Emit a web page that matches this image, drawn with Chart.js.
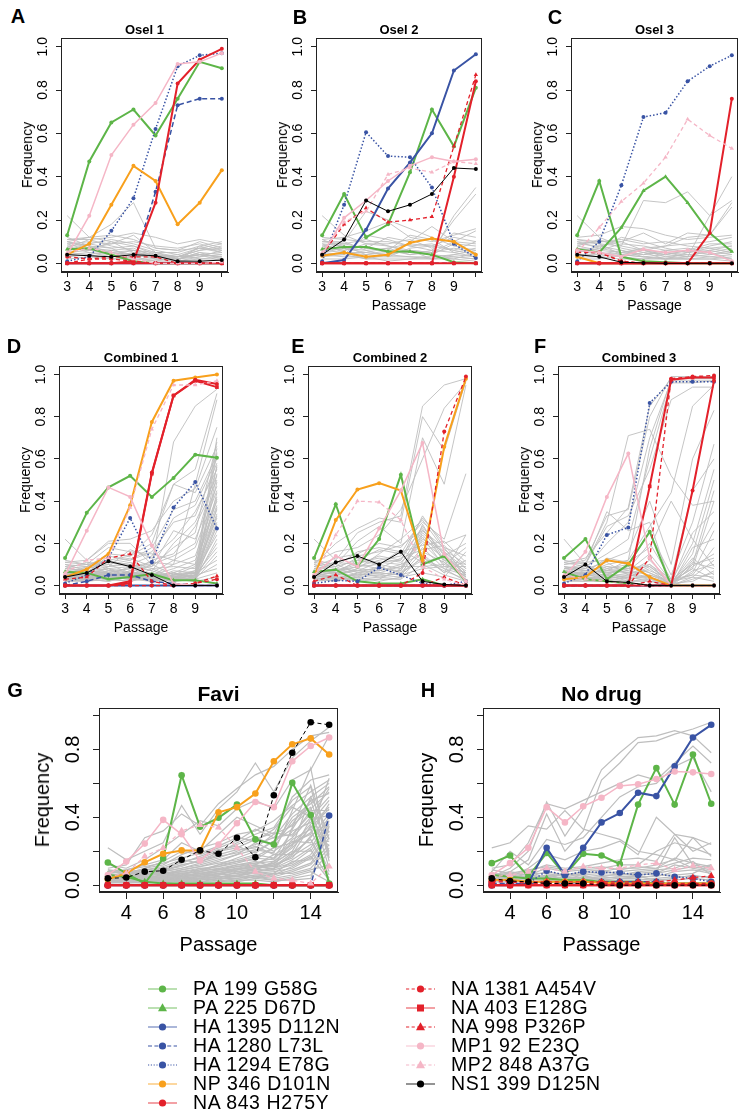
<!DOCTYPE html>
<html>
<head>
<meta charset="utf-8">
<script src="https://cdn.jsdelivr.net/npm/chart.js@4.4.1/dist/chart.umd.min.js"></script>
<style>
  body { margin: 0; background: #fff; }
  #fig { position: relative; width: 750px; height: 1119px; overflow: hidden;
         font-family: "Liberation Sans", Arial, Helvetica, sans-serif; color: #000; }
  #fig canvas { position: absolute; }
  .t { position: absolute; white-space: nowrap; line-height: 1; transform: translate(-50%, -50%); }
  .t.rot { transform: translate(-50%, -50%) rotate(-90deg); }
  .legtxt { position: absolute; white-space: nowrap; line-height: 1; font-size: 19.5px;
            letter-spacing: 0.6px; transform: translateY(-50%); }
  .legsym { position: absolute; }
</style>
</head>
<body>
<div id="fig"></div>
<script>
// passages
const passShort = [3, 4, 5, 6, 7, 8, 9, 10];
const passLong = [3, 4, 5, 6, 7, 8, 9, 10, 11, 12, 13, 14, 15];

const seriesNames = ["PA 199 G58G", "PA 225 D67D", "HA 1395 D112N", "HA 1280 L73L", "HA 1294 E78G",
  "NP 346 D101N", "NA 843 H275Y", "NA 1381 A454V", "NA 403 E128G", "NA 998 P326P",
  "MP1 92 E23Q", "MP2 848 A37G", "NS1 399 D125N"];

// one row per series, in legend order
const osel1 = [
  [0.13, 0.47, 0.65, 0.71, 0.59, 0.76, 0.93, 0.90],
  [0.065, 0.07, 0.04, 0.01, 0.0, 0.0, 0.0, 0.0],
  [0, 0, 0, 0, 0, 0, 0, 0],
  [0.0, 0.0, 0.0, 0.0, 0.33, 0.73, 0.76, 0.76],
  [0.01, 0.03, 0.15, 0.30, 0.62, 0.91, 0.96, 0.97],
  [0.04, 0.09, 0.27, 0.45, 0.38, 0.18, 0.28, 0.43],
  [0.0, 0.0, 0.0, 0.01, 0.28, 0.83, 0.94, 0.99],
  [0.03, 0.02, 0.02, 0.01, 0.0, 0.0, 0.0, 0.0],
  [0, 0, 0, 0, 0, 0, 0, 0],
  [0.0, 0.02, 0.03, 0.03, 0.03, 0.0, 0.0, 0.0],
  [0.04, 0.22, 0.50, 0.64, 0.74, 0.92, 0.93, 0.97],
  [0.05, 0.07, 0.05, 0.02, 0.0, 0.0, 0.0, 0.005],
  [0.04, 0.035, 0.03, 0.04, 0.035, 0.01, 0.01, 0.015]
];
const osel1Grey = [
  [0.22, 0.12, 0.10, 0.08, 0.05, 0.03, 0.04, 0.03],
  [0.11, 0.12, 0.18, 0.28, 0.07, 0.06, 0.07, 0.06],
  [0.11, 0.11, 0.12, 0.14, 0.12, 0.09, 0.11, 0.09],
  [0.10, 0.12, 0.13, 0.11, 0.07, 0.06, 0.10, 0.07],
  [0.09, 0.10, 0.09, 0.13, 0.05, 0.05, 0.08, 0.10],
  [0.08, 0.09, 0.11, 0.09, 0.06, 0.04, 0.07, 0.05],
  [0.10, 0.08, 0.07, 0.08, 0.04, 0.03, 0.06, 0.08],
  [0.07, 0.11, 0.08, 0.06, 0.05, 0.02, 0.05, 0.04],
  [0.06, 0.07, 0.06, 0.07, 0.03, 0.03, 0.06, 0.07],
  [0.05, 0.06, 0.10, 0.05, 0.04, 0.02, 0.04, 0.03],
  [0.12, 0.08, 0.05, 0.04, 0.03, 0.02, 0.03, 0.06],
  [0.04, 0.05, 0.04, 0.06, 0.02, 0.02, 0.05, 0.02],
  [0.09, 0.06, 0.05, 0.03, 0.04, 0.01, 0.08, 0.05],
  [0.03, 0.04, 0.06, 0.04, 0.02, 0.01, 0.03, 0.04],
  [0.08, 0.05, 0.03, 0.05, 0.03, 0.04, 0.02, 0.02],
  [0.02, 0.03, 0.02, 0.03, 0.01, 0.01, 0.02, 0.03],
  [0.06, 0.09, 0.07, 0.02, 0.02, 0.02, 0.04, 0.01],
  [0.10, 0.07, 0.09, 0.10, 0.08, 0.07, 0.09, 0.06],
  [0.05, 0.04, 0.02, 0.02, 0.01, 0.03, 0.07, 0.09],
  [0.07, 0.06, 0.05, 0.06, 0.04, 0.03, 0.04, 0.05]
];

const osel2 = [
  [0.13, 0.32, 0.12, 0.18, 0.42, 0.71, 0.54, 0.81],
  [0.065, 0.075, 0.075, 0.055, 0.055, 0.04, 0.005, 0.0],
  [0.0, 0.015, 0.155, 0.345, 0.465, 0.60, 0.89, 0.965],
  [0, 0, 0, 0, 0, 0, 0, 0],
  [0.01, 0.27, 0.605, 0.495, 0.49, 0.35, 0.09, 0.025],
  [0.035, 0.05, 0.03, 0.04, 0.095, 0.115, 0.10, 0.04],
  [0, 0, 0, 0, 0, 0, 0.40, 0.84],
  [0, 0, 0, 0, 0, 0, 0, 0],
  [0, 0, 0, 0, 0, 0, 0, 0],
  [0.04, 0.18, 0.255, 0.19, 0.20, 0.215, 0.54, 0.87],
  [0.04, 0.21, 0.29, 0.38, 0.45, 0.49, 0.47, 0.48],
  [0.05, 0.19, 0.24, 0.41, 0.44, 0.42, 0.47, 0.46],
  [0.04, 0.11, 0.29, 0.24, 0.27, 0.32, 0.44, 0.435]
];
const osel2Grey = [
  [0.22, 0.13, 0.09, 0.08, 0.06, 0.05, 0.22, 0.35],
  [0.12, 0.11, 0.10, 0.10, 0.08, 0.06, 0.20, 0.32],
  [0.11, 0.12, 0.15, 0.19, 0.12, 0.10, 0.13, 0.16],
  [0.10, 0.10, 0.24, 0.20, 0.16, 0.12, 0.08, 0.06],
  [0.09, 0.08, 0.07, 0.12, 0.10, 0.17, 0.10, 0.09],
  [0.08, 0.10, 0.06, 0.07, 0.09, 0.08, 0.12, 0.10],
  [0.07, 0.06, 0.08, 0.05, 0.06, 0.05, 0.07, 0.05],
  [0.10, 0.09, 0.11, 0.08, 0.05, 0.04, 0.03, 0.02],
  [0.06, 0.05, 0.04, 0.06, 0.04, 0.06, 0.05, 0.07],
  [0.05, 0.07, 0.05, 0.04, 0.03, 0.03, 0.04, 0.03],
  [0.04, 0.03, 0.03, 0.03, 0.07, 0.08, 0.06, 0.04],
  [0.03, 0.04, 0.02, 0.02, 0.02, 0.02, 0.03, 0.02],
  [0.08, 0.06, 0.09, 0.09, 0.11, 0.07, 0.14, 0.12],
  [0.02, 0.02, 0.03, 0.01, 0.02, 0.03, 0.02, 0.05],
  [0.06, 0.08, 0.04, 0.05, 0.05, 0.04, 0.09, 0.08],
  [0.11, 0.07, 0.06, 0.03, 0.03, 0.02, 0.02, 0.01],
  [0.05, 0.04, 0.13, 0.11, 0.08, 0.09, 0.06, 0.10],
  [0.07, 0.09, 0.07, 0.06, 0.13, 0.11, 0.05, 0.03],
  [0.04, 0.05, 0.05, 0.07, 0.04, 0.05, 0.10, 0.15],
  [0.09, 0.05, 0.02, 0.04, 0.06, 0.02, 0.04, 0.06]
];

const osel3 = [
  [0.13, 0.38, 0.03, 0.01, 0.005, 0.0, 0.0, 0.0],
  [0.065, 0.05, 0.165, 0.335, 0.40, 0.28, 0.14, 0.055],
  [0, 0, 0, 0, 0, 0, 0, 0],
  [0, 0, 0, 0, 0, 0, 0, 0],
  [0.01, 0.10, 0.36, 0.675, 0.695, 0.84, 0.91, 0.96],
  [0.03, 0.0, 0.0, 0.0, 0.0, 0.0, 0.0, 0.0],
  [0, 0, 0, 0, 0, 0, 0.14, 0.76],
  [0.05, 0.05, 0.01, 0, 0, 0, 0, 0],
  [0, 0, 0, 0, 0, 0, 0, 0],
  [0.06, 0.05, 0.01, 0, 0, 0, 0, 0],
  [0.06, 0.05, 0.03, 0.065, 0.05, 0.06, 0.05, 0.01],
  [0.05, 0.165, 0.285, 0.37, 0.49, 0.665, 0.59, 0.53],
  [0.04, 0.03, 0.005, 0.002, 0, 0, 0, 0]
];
const osel3Grey = [
  [0.22, 0.12, 0.08, 0.06, 0.05, 0.04, 0.03, 0.02],
  [0.10, 0.09, 0.08, 0.29, 0.28, 0.33, 0.22, 0.40],
  [0.12, 0.13, 0.17, 0.16, 0.13, 0.11, 0.12, 0.13],
  [0.11, 0.10, 0.10, 0.14, 0.09, 0.14, 0.13, 0.28],
  [0.09, 0.08, 0.10, 0.06, 0.08, 0.12, 0.13, 0.26],
  [0.08, 0.11, 0.07, 0.05, 0.04, 0.06, 0.09, 0.09],
  [0.07, 0.06, 0.09, 0.08, 0.06, 0.05, 0.08, 0.10],
  [0.10, 0.07, 0.05, 0.04, 0.05, 0.03, 0.06, 0.08],
  [0.06, 0.05, 0.04, 0.06, 0.03, 0.04, 0.05, 0.07],
  [0.05, 0.08, 0.06, 0.03, 0.04, 0.03, 0.04, 0.06],
  [0.04, 0.04, 0.03, 0.05, 0.02, 0.05, 0.07, 0.05],
  [0.03, 0.03, 0.02, 0.02, 0.03, 0.02, 0.03, 0.04],
  [0.08, 0.06, 0.05, 0.07, 0.08, 0.09, 0.10, 0.12],
  [0.02, 0.02, 0.04, 0.03, 0.02, 0.02, 0.02, 0.03],
  [0.06, 0.04, 0.06, 0.04, 0.06, 0.07, 0.05, 0.02],
  [0.11, 0.09, 0.04, 0.03, 0.02, 0.02, 0.02, 0.01],
  [0.05, 0.07, 0.12, 0.10, 0.07, 0.05, 0.06, 0.04],
  [0.07, 0.05, 0.03, 0.02, 0.02, 0.03, 0.22, 0.29],
  [0.09, 0.10, 0.11, 0.09, 0.10, 0.08, 0.07, 0.08],
  [0.04, 0.03, 0.05, 0.06, 0.04, 0.06, 0.04, 0.05]
];

const comb1 = [
  [0.13, 0.345, 0.465, 0.52, 0.42, 0.51, 0.62, 0.605],
  [0.065, 0.06, 0.03, 0.04, 0.055, 0.025, 0.025, 0.01],
  [0, 0, 0, 0, 0, 0, 0, 0],
  [0.0, 0.02, 0.05, 0.05, 0.02, 0.01, 0.0, 0.0],
  [0.01, 0.05, 0.13, 0.32, 0.11, 0.37, 0.49, 0.27],
  [0.04, 0.077, 0.15, 0.38, 0.775, 0.97, 0.985, 1.0],
  [0.0, 0.0, 0.0, 0.02, 0.535, 0.90, 0.975, 0.955],
  [0, 0, 0, 0, 0, 0, 0.01, 0.03],
  [0.0, 0.0, 0.0, 0.01, 0.53, 0.90, 0.97, 0.94],
  [0.03, 0.04, 0.13, 0.15, 0.02, 0.0, 0.01, 0.045],
  [0.05, 0.26, 0.465, 0.42, 0.19, 0.01, 0.0, 0.0],
  [0.06, 0.12, 0.13, 0.37, 0.74, 0.95, 0.95, 0.97],
  [0.04, 0.06, 0.115, 0.09, 0.05, 0.0, 0.0, 0.0]
];
const comb1Grey = [
  [0.22, 0.12, 0.20, 0.20, 0.10, 0.68, 0.85, 0.93],
  [0.10, 0.09, 0.15, 0.14, 0.24, 0.48, 0.55, 0.91],
  [0.11, 0.12, 0.21, 0.22, 0.26, 0.40, 0.46, 0.75],
  [0.09, 0.10, 0.12, 0.14, 0.20, 0.48, 0.44, 0.66],
  [0.08, 0.11, 0.10, 0.12, 0.18, 0.36, 0.40, 0.62],
  [0.07, 0.06, 0.14, 0.12, 0.16, 0.30, 0.33, 0.58],
  [0.12, 0.10, 0.09, 0.17, 0.13, 0.22, 0.35, 0.55],
  [0.06, 0.08, 0.11, 0.10, 0.07, 0.20, 0.30, 0.52],
  [0.05, 0.05, 0.08, 0.06, 0.12, 0.15, 0.28, 0.50],
  [0.10, 0.07, 0.06, 0.08, 0.09, 0.26, 0.22, 0.47],
  [0.04, 0.04, 0.07, 0.05, 0.06, 0.12, 0.18, 0.45],
  [0.08, 0.09, 0.12, 0.09, 0.11, 0.10, 0.14, 0.42],
  [0.03, 0.06, 0.05, 0.04, 0.05, 0.08, 0.12, 0.40],
  [0.07, 0.05, 0.04, 0.07, 0.04, 0.06, 0.10, 0.38],
  [0.06, 0.04, 0.09, 0.11, 0.08, 0.09, 0.08, 0.36],
  [0.05, 0.07, 0.06, 0.05, 0.10, 0.05, 0.07, 0.34],
  [0.09, 0.06, 0.08, 0.04, 0.03, 0.07, 0.06, 0.32],
  [0.04, 0.03, 0.05, 0.06, 0.06, 0.04, 0.05, 0.30],
  [0.02, 0.04, 0.04, 0.03, 0.02, 0.03, 0.05, 0.28],
  [0.06, 0.05, 0.07, 0.08, 0.05, 0.06, 0.04, 0.26],
  [0.03, 0.02, 0.03, 0.02, 0.04, 0.05, 0.06, 0.24],
  [0.05, 0.06, 0.05, 0.09, 0.07, 0.04, 0.03, 0.22],
  [0.04, 0.05, 0.06, 0.04, 0.03, 0.02, 0.04, 0.20],
  [0.07, 0.08, 0.10, 0.06, 0.05, 0.03, 0.05, 0.18],
  [0.02, 0.03, 0.02, 0.05, 0.04, 0.06, 0.04, 0.16],
  [0.03, 0.04, 0.06, 0.03, 0.08, 0.04, 0.03, 0.14],
  [0.05, 0.03, 0.04, 0.07, 0.03, 0.05, 0.06, 0.12],
  [0.04, 0.06, 0.03, 0.02, 0.05, 0.03, 0.04, 0.10],
  [0.06, 0.04, 0.05, 0.05, 0.02, 0.04, 0.05, 0.08],
  [0.03, 0.05, 0.07, 0.06, 0.06, 0.02, 0.03, 0.06],
  [0.02, 0.02, 0.04, 0.03, 0.03, 0.03, 0.02, 0.04],
  [0.11, 0.10, 0.18, 0.16, 0.15, 0.12, 0.10, 0.65],
  [0.08, 0.07, 0.09, 0.10, 0.14, 0.32, 0.38, 0.60],
  [0.05, 0.09, 0.11, 0.13, 0.09, 0.18, 0.25, 0.68],
  [0.04, 0.03, 0.02, 0.04, 0.05, 0.10, 0.48, 0.88],
  [0.06, 0.07, 0.08, 0.09, 0.10, 0.14, 0.20, 0.56],
  [0.03, 0.04, 0.03, 0.05, 0.04, 0.03, 0.05, 0.70],
  [0.05, 0.04, 0.06, 0.04, 0.05, 0.04, 0.06, 0.63],
  [0.04, 0.05, 0.04, 0.06, 0.03, 0.05, 0.04, 0.57],
  [0.02, 0.03, 0.05, 0.03, 0.04, 0.02, 0.03, 0.53],
  [0.06, 0.05, 0.04, 0.05, 0.06, 0.04, 0.07, 0.49],
  [0.03, 0.04, 0.03, 0.04, 0.02, 0.03, 0.02, 0.44],
  [0.04, 0.02, 0.05, 0.06, 0.05, 0.05, 0.09, 0.41],
  [0.05, 0.06, 0.04, 0.03, 0.04, 0.06, 0.03, 0.37],
  [0.02, 0.05, 0.03, 0.04, 0.03, 0.02, 0.06, 0.33],
  [0.04, 0.03, 0.06, 0.05, 0.05, 0.04, 0.02, 0.29]
];

const comb2 = [
  [0.13, 0.385, 0.09, 0.22, 0.525, 0.10, 0.14, 0.02],
  [0.065, 0.075, 0.02, 0.01, 0.01, 0.03, 0.0, 0.0],
  [0, 0, 0, 0, 0, 0, 0, 0],
  [0, 0, 0, 0, 0, 0, 0, 0],
  [0.01, 0.025, 0.02, 0.085, 0.05, 0.01, 0.0, 0.02],
  [0.04, 0.31, 0.455, 0.485, 0.45, 0.12, 0.657, 0.98],
  [0, 0, 0, 0, 0, 0, 0, 0],
  [0, 0, 0, 0, 0, 0.06, 0.73, 0.99],
  [0, 0, 0, 0, 0, 0, 0, 0],
  [0.02, 0.05, 0.0, 0.0, 0.0, 0.0, 0.04, 0.0],
  [0.05, 0.14, 0.09, 0.27, 0.45, 0.675, 0.15, 0.02],
  [0.04, 0.24, 0.40, 0.395, 0.31, 0.09, 0.03, 0.0],
  [0.04, 0.11, 0.14, 0.10, 0.16, 0.02, 0.005, 0.0]
];
const comb2Grey = [
  [0.22, 0.12, 0.25, 0.30, 0.33, 0.85, 0.95, 0.98],
  [0.10, 0.20, 0.27, 0.32, 0.30, 0.80, 0.64, 0.97],
  [0.11, 0.16, 0.18, 0.24, 0.36, 0.60, 0.84, 0.96],
  [0.12, 0.10, 0.21, 0.28, 0.20, 0.70, 0.48, 0.95],
  [0.09, 0.13, 0.15, 0.20, 0.18, 0.30, 0.22, 0.53],
  [0.08, 0.09, 0.12, 0.17, 0.15, 0.32, 0.20, 0.24],
  [0.07, 0.11, 0.10, 0.14, 0.12, 0.28, 0.14, 0.20],
  [0.10, 0.08, 0.13, 0.11, 0.10, 0.26, 0.18, 0.14],
  [0.06, 0.07, 0.09, 0.10, 0.08, 0.24, 0.12, 0.10],
  [0.05, 0.06, 0.07, 0.08, 0.07, 0.22, 0.16, 0.08],
  [0.04, 0.05, 0.08, 0.07, 0.09, 0.20, 0.10, 0.06],
  [0.08, 0.10, 0.06, 0.09, 0.06, 0.18, 0.08, 0.05],
  [0.03, 0.04, 0.05, 0.06, 0.05, 0.16, 0.11, 0.04],
  [0.07, 0.06, 0.04, 0.05, 0.04, 0.14, 0.06, 0.12],
  [0.06, 0.03, 0.06, 0.04, 0.06, 0.12, 0.07, 0.03],
  [0.02, 0.03, 0.03, 0.03, 0.03, 0.10, 0.05, 0.02],
  [0.05, 0.08, 0.07, 0.06, 0.05, 0.08, 0.09, 0.09],
  [0.04, 0.02, 0.04, 0.02, 0.04, 0.06, 0.04, 0.16],
  [0.09, 0.07, 0.11, 0.13, 0.11, 0.21, 0.13, 0.07],
  [0.11, 0.09, 0.16, 0.18, 0.16, 0.19, 0.21, 0.11],
  [0.03, 0.05, 0.05, 0.05, 0.07, 0.25, 0.15, 0.05],
  [0.06, 0.04, 0.03, 0.04, 0.03, 0.29, 0.12, 0.04],
  [0.05, 0.06, 0.09, 0.12, 0.14, 0.27, 0.11, 0.03],
  [0.02, 0.04, 0.02, 0.03, 0.08, 0.23, 0.09, 0.06],
  [0.04, 0.07, 0.10, 0.08, 0.13, 0.17, 0.19, 0.08],
  [0.07, 0.05, 0.08, 0.15, 0.22, 0.31, 0.17, 0.10],
  [0.03, 0.02, 0.06, 0.07, 0.10, 0.15, 0.06, 0.24],
  [0.05, 0.03, 0.04, 0.09, 0.06, 0.13, 0.08, 0.02],
  [0.08, 0.06, 0.12, 0.10, 0.17, 0.11, 0.14, 0.05],
  [0.06, 0.08, 0.05, 0.06, 0.09, 0.09, 0.10, 0.18],
  [0.09, 0.11, 0.14, 0.16, 0.19, 0.26, 0.16, 0.06],
  [0.04, 0.05, 0.07, 0.11, 0.12, 0.33, 0.18, 0.04]
];

const comb3 = [
  [0.13, 0.22, 0.03, 0.10, 0.255, 0.0, 0.0, 0.0],
  [0.065, 0.03, 0.02, 0.01, 0.0, 0.0, 0.0, 0.0],
  [0, 0, 0, 0, 0, 0, 0, 0],
  [0, 0, 0, 0, 0, 0, 0, 0],
  [0.01, 0.05, 0.24, 0.275, 0.865, 0.965, 0.965, 0.965],
  [0.03, 0.04, 0.12, 0.105, 0.04, 0.0, 0.0, 0.0],
  [0, 0, 0, 0, 0, 0, 0.45, 0.97],
  [0, 0, 0, 0, 0.13, 0.98, 0.99, 0.995],
  [0, 0, 0, 0, 0.47, 0.975, 0.985, 0.985],
  [0, 0, 0, 0, 0.02, 0.0, 0.0, 0.0],
  [0.04, 0.16, 0.42, 0.625, 0.13, 0.0, 0.0, 0.0],
  [0.05, 0.03, 0.02, 0.01, 0.0, 0, 0, 0],
  [0.04, 0.10, 0.02, 0.015, 0.0, 0.0, 0.0, 0.0]
];
const comb3Grey = [
  [0.22, 0.10, 0.30, 0.71, 0.74, 0.52, 0.38, 0.40],
  [0.10, 0.12, 0.33, 0.36, 0.80, 0.99, 0.99, 0.99],
  [0.11, 0.13, 0.25, 0.37, 0.85, 0.98, 0.98, 0.98],
  [0.09, 0.08, 0.20, 0.30, 0.70, 0.97, 0.97, 0.97],
  [0.08, 0.09, 0.15, 0.22, 0.60, 0.96, 0.96, 0.97],
  [0.12, 0.10, 0.28, 0.33, 0.55, 0.88, 0.94, 0.94],
  [0.07, 0.06, 0.10, 0.12, 0.28, 0.44, 0.85, 0.95],
  [0.10, 0.11, 0.12, 0.16, 0.40, 0.10, 0.60, 0.83],
  [0.06, 0.05, 0.08, 0.10, 0.25, 0.05, 0.30, 0.67],
  [0.05, 0.07, 0.06, 0.08, 0.20, 0.03, 0.45, 0.60],
  [0.09, 0.04, 0.07, 0.06, 0.12, 0.02, 0.20, 0.55],
  [0.04, 0.06, 0.05, 0.05, 0.10, 0.01, 0.15, 0.50],
  [0.03, 0.03, 0.04, 0.04, 0.08, 0.00, 0.10, 0.45],
  [0.08, 0.07, 0.09, 0.07, 0.15, 0.02, 0.08, 0.40],
  [0.07, 0.05, 0.05, 0.09, 0.06, 0.01, 0.25, 0.35],
  [0.06, 0.08, 0.11, 0.05, 0.04, 0.00, 0.12, 0.30],
  [0.05, 0.04, 0.04, 0.03, 0.05, 0.01, 0.06, 0.26],
  [0.02, 0.03, 0.03, 0.02, 0.03, 0.00, 0.18, 0.22],
  [0.04, 0.05, 0.08, 0.06, 0.07, 0.03, 0.05, 0.18],
  [0.03, 0.02, 0.02, 0.04, 0.02, 0.01, 0.09, 0.15],
  [0.06, 0.06, 0.07, 0.08, 0.09, 0.02, 0.04, 0.12],
  [0.05, 0.03, 0.06, 0.03, 0.04, 0.00, 0.07, 0.10],
  [0.04, 0.04, 0.03, 0.05, 0.03, 0.01, 0.11, 0.08],
  [0.02, 0.02, 0.05, 0.02, 0.02, 0.00, 0.03, 0.06],
  [0.07, 0.09, 0.06, 0.07, 0.05, 0.02, 0.05, 0.04],
  [0.03, 0.05, 0.04, 0.06, 0.04, 0.01, 0.13, 0.05],
  [0.09, 0.07, 0.12, 0.10, 0.06, 0.02, 0.08, 0.03],
  [0.06, 0.04, 0.09, 0.08, 0.10, 0.03, 0.10, 0.13],
  [0.05, 0.06, 0.13, 0.11, 0.18, 0.40, 0.22, 0.09],
  [0.08, 0.10, 0.35, 0.26, 0.30, 0.00, 0.04, 0.02],
  [0.04, 0.03, 0.05, 0.04, 0.09, 0.01, 0.02, 0.07],
  [0.11, 0.09, 0.07, 0.12, 0.65, 0.98, 0.98, 0.98]
];

const favi = [
  [0.134, 0.07, 0.01, 0.157, 0.648, 0.344, 0.397, 0.475, 0.27, 0.24, 0.603, 0.413, 0.01],
  [0.06, 0.05, 0.02, 0.01, 0.01, 0.01, 0.01, 0.01, 0.01, 0.0, 0.0, 0.0, 0.0],
  [0, 0, 0, 0, 0, 0, 0, 0, 0, 0, 0, 0, 0],
  [0, 0, 0, 0, 0, 0, 0, 0, 0, 0, 0, 0, 0.41],
  [0, 0, 0, 0, 0, 0, 0, 0, 0, 0, 0, 0, 0],
  [0.035, 0.07, 0.135, 0.185, 0.205, 0.205, 0.43, 0.46, 0.54, 0.73, 0.83, 0.865, 0.77],
  [0, 0, 0, 0, 0, 0, 0, 0, 0, 0, 0, 0, 0],
  [0, 0, 0, 0, 0, 0, 0, 0, 0, 0, 0, 0, 0],
  [0, 0, 0, 0, 0, 0, 0, 0, 0, 0, 0, 0, 0],
  [0, 0, 0, 0, 0, 0, 0, 0, 0, 0, 0, 0, 0],
  [0.06, 0.14, 0.245, 0.385, 0.30, 0.145, 0.24, 0.365, 0.49, 0.46, 0.73, 0.82, 0.87],
  [0.05, 0.07, 0.17, 0.22, 0.32, 0.355, 0.34, 0.22, 0.08, 0.04, 0.03, 0.01, 0.11],
  [0.04, 0.045, 0.08, 0.085, 0.15, 0.205, 0.185, 0.28, 0.165, 0.53, 0.78, 0.96, 0.945]
];
const faviGrey = [
  [0.22, 0.15, 0.20, 0.25, 0.47, 0.30, 0.45, 0.55, 0.72, 0.55, 0.75, 0.85, 0.93],
  [0.10, 0.12, 0.28, 0.32, 0.42, 0.35, 0.48, 0.57, 0.65, 0.70, 0.80, 0.88, 0.90],
  [0.12, 0.10, 0.15, 0.22, 0.30, 0.38, 0.35, 0.45, 0.50, 0.45, 0.62, 0.68, 0.88],
  [0.08, 0.09, 0.12, 0.15, 0.25, 0.20, 0.30, 0.40, 0.35, 0.30, 0.52, 0.62, 0.65],
  [0.09, 0.06, 0.10, 0.12, 0.18, 0.22, 0.25, 0.30, 0.32, 0.38, 0.47, 0.55, 0.62],
  [0.07, 0.08, 0.09, 0.10, 0.14, 0.16, 0.20, 0.24, 0.28, 0.24, 0.40, 0.48, 0.58],
  [0.06, 0.05, 0.07, 0.09, 0.12, 0.14, 0.18, 0.21, 0.22, 0.30, 0.35, 0.45, 0.55],
  [0.05, 0.07, 0.06, 0.08, 0.10, 0.12, 0.15, 0.18, 0.25, 0.20, 0.28, 0.40, 0.52],
  [0.04, 0.04, 0.05, 0.07, 0.09, 0.11, 0.13, 0.15, 0.18, 0.16, 0.32, 0.37, 0.50],
  [0.06, 0.06, 0.08, 0.06, 0.08, 0.09, 0.11, 0.14, 0.15, 0.22, 0.25, 0.30, 0.48],
  [0.03, 0.05, 0.04, 0.05, 0.07, 0.08, 0.10, 0.12, 0.13, 0.14, 0.22, 0.34, 0.45],
  [0.05, 0.03, 0.06, 0.07, 0.06, 0.10, 0.09, 0.11, 0.12, 0.18, 0.18, 0.28, 0.42],
  [0.04, 0.06, 0.05, 0.04, 0.05, 0.07, 0.08, 0.10, 0.10, 0.12, 0.26, 0.25, 0.40],
  [0.02, 0.03, 0.04, 0.06, 0.07, 0.06, 0.07, 0.09, 0.11, 0.10, 0.15, 0.22, 0.38],
  [0.07, 0.05, 0.03, 0.05, 0.04, 0.08, 0.10, 0.08, 0.09, 0.13, 0.20, 0.20, 0.36],
  [0.03, 0.04, 0.06, 0.03, 0.06, 0.05, 0.06, 0.07, 0.08, 0.09, 0.12, 0.18, 0.34],
  [0.05, 0.02, 0.03, 0.04, 0.05, 0.06, 0.05, 0.06, 0.07, 0.08, 0.10, 0.16, 0.32],
  [0.02, 0.04, 0.02, 0.05, 0.03, 0.04, 0.07, 0.05, 0.06, 0.07, 0.14, 0.15, 0.30],
  [0.04, 0.03, 0.05, 0.02, 0.04, 0.05, 0.04, 0.08, 0.05, 0.06, 0.09, 0.13, 0.28],
  [0.06, 0.04, 0.04, 0.06, 0.08, 0.07, 0.09, 0.12, 0.14, 0.11, 0.17, 0.24, 0.26],
  [0.03, 0.02, 0.03, 0.03, 0.05, 0.03, 0.05, 0.04, 0.06, 0.05, 0.08, 0.12, 0.24],
  [0.02, 0.03, 0.02, 0.04, 0.02, 0.04, 0.03, 0.06, 0.04, 0.07, 0.07, 0.10, 0.22],
  [0.04, 0.05, 0.07, 0.08, 0.10, 0.13, 0.16, 0.20, 0.24, 0.28, 0.30, 0.42, 0.20],
  [0.05, 0.06, 0.04, 0.05, 0.06, 0.09, 0.12, 0.16, 0.20, 0.26, 0.36, 0.50, 0.18],
  [0.03, 0.04, 0.05, 0.06, 0.09, 0.11, 0.14, 0.18, 0.21, 0.19, 0.44, 0.69, 0.16],
  [0.06, 0.07, 0.08, 0.09, 0.11, 0.15, 0.19, 0.25, 0.30, 0.34, 0.50, 0.58, 0.14],
  [0.02, 0.02, 0.03, 0.02, 0.03, 0.02, 0.04, 0.03, 0.05, 0.04, 0.06, 0.09, 0.12],
  [0.04, 0.03, 0.04, 0.05, 0.07, 0.08, 0.12, 0.14, 0.17, 0.22, 0.38, 0.46, 0.10],
  [0.03, 0.05, 0.06, 0.07, 0.08, 0.10, 0.11, 0.13, 0.16, 0.15, 0.27, 0.33, 0.08],
  [0.05, 0.04, 0.03, 0.04, 0.05, 0.06, 0.08, 0.10, 0.12, 0.11, 0.19, 0.27, 0.06],
  [0.02, 0.03, 0.04, 0.03, 0.04, 0.05, 0.06, 0.07, 0.09, 0.10, 0.13, 0.21, 0.04],
  [0.04, 0.02, 0.02, 0.03, 0.03, 0.04, 0.05, 0.05, 0.08, 0.06, 0.11, 0.17, 0.03],
  [0.03, 0.03, 0.03, 0.04, 0.02, 0.03, 0.04, 0.04, 0.05, 0.03, 0.05, 0.08, 0.02],
  [0.01, 0.02, 0.01, 0.02, 0.02, 0.02, 0.02, 0.03, 0.03, 0.02, 0.04, 0.06, 0.20],
  [0.02, 0.01, 0.02, 0.01, 0.03, 0.02, 0.03, 0.02, 0.04, 0.03, 0.03, 0.04, 0.35],
  [0.08, 0.07, 0.10, 0.14, 0.20, 0.18, 0.22, 0.26, 0.33, 0.28, 0.42, 0.52, 0.60],
  [0.07, 0.09, 0.11, 0.13, 0.16, 0.19, 0.23, 0.28, 0.26, 0.33, 0.46, 0.40, 0.57],
  [0.09, 0.08, 0.07, 0.10, 0.13, 0.17, 0.21, 0.23, 0.19, 0.26, 0.33, 0.50, 0.54],
  [0.06, 0.05, 0.06, 0.08, 0.12, 0.14, 0.17, 0.19, 0.23, 0.18, 0.24, 0.36, 0.46],
  [0.05, 0.06, 0.09, 0.11, 0.15, 0.13, 0.20, 0.22, 0.27, 0.31, 0.29, 0.44, 0.44],
  [0.03, 0.02, 0.04, 0.05, 0.06, 0.07, 0.09, 0.11, 0.13, 0.16, 0.24, 0.31, 0.63],
  [0.02, 0.04, 0.03, 0.04, 0.05, 0.06, 0.08, 0.09, 0.11, 0.13, 0.20, 0.39, 0.41],
  [0.04, 0.03, 0.05, 0.03, 0.04, 0.05, 0.07, 0.08, 0.10, 0.12, 0.16, 0.29, 0.37],
  [0.03, 0.05, 0.02, 0.04, 0.06, 0.05, 0.06, 0.10, 0.09, 0.14, 0.23, 0.52, 0.31],
  [0.05, 0.03, 0.04, 0.06, 0.05, 0.07, 0.06, 0.09, 0.12, 0.09, 0.34, 0.59, 0.27],
  [0.02, 0.03, 0.03, 0.02, 0.04, 0.04, 0.05, 0.06, 0.08, 0.10, 0.18, 0.35, 0.23]
];

const noDrug = [
  [0.13, 0.175, 0.05, 0.19, 0.06, 0.185, 0.175, 0.125, 0.475, 0.69, 0.475, 0.77, 0.48],
  [0.06, 0.05, 0.04, 0.04, 0.03, 0.03, 0.02, 0.02, 0.02, 0.01, 0.01, 0.01, 0.01],
  [0.0, 0.0, 0.01, 0.22, 0.06, 0.22, 0.37, 0.425, 0.545, 0.525, 0.70, 0.87, 0.945],
  [0.01, 0.01, 0.01, 0.02, 0.01, 0.02, 0.02, 0.02, 0.02, 0.02, 0.01, 0.01, 0.01],
  [0.0, 0.01, 0.01, 0.085, 0.06, 0.08, 0.075, 0.075, 0.06, 0.07, 0.05, 0.04, 0.02],
  [0.03, 0.03, 0.02, 0.02, 0.02, 0.02, 0.015, 0.01, 0.01, 0.01, 0.01, 0.01, 0.01],
  [0, 0, 0, 0, 0, 0, 0, 0, 0, 0, 0, 0, 0],
  [0.02, 0.02, 0.01, 0.01, 0.01, 0.01, 0.01, 0.01, 0.01, 0.01, 0.01, 0.01, 0.01],
  [0, 0, 0, 0, 0, 0, 0, 0, 0, 0, 0, 0, 0],
  [0.03, 0.02, 0.02, 0.02, 0.02, 0.02, 0.02, 0.02, 0.02, 0.02, 0.03, 0.045, 0.055],
  [0.06, 0.13, 0.22, 0.46, 0.37, 0.465, 0.515, 0.585, 0.595, 0.625, 0.67, 0.665, 0.655],
  [0.05, 0.06, 0.08, 0.10, 0.08, 0.11, 0.10, 0.10, 0.12, 0.13, 0.09, 0.115, 0.10],
  [0.04, 0.025, 0.02, 0.01, 0.01, 0.01, 0.0, 0.0, 0.0, 0.0, 0.0, 0.0, 0.0]
];
const noDrugGrey = [
  [0.22, 0.25, 0.35, 0.33, 0.44, 0.33, 0.30, 0.27, 0.20, 0.18, 0.15, 0.10, 0.12],
  [0.05, 0.10, 0.20, 0.49, 0.29, 0.45, 0.68, 0.78, 0.87, 0.88, 0.91, 0.88, 0.78],
  [0.03, 0.08, 0.15, 0.42, 0.20, 0.32, 0.62, 0.72, 0.84, 0.85, 0.89, 0.92, 0.96],
  [0.10, 0.12, 0.25, 0.48, 0.45, 0.50, 0.55, 0.60, 0.65, 0.62, 0.72, 0.82, 0.72],
  [0.08, 0.20, 0.12, 0.27, 0.24, 0.28, 0.40, 0.52, 0.58, 0.60, 0.70, 0.75, 0.55],
  [0.06, 0.05, 0.10, 0.18, 0.15, 0.20, 0.22, 0.26, 0.18, 0.40, 0.30, 0.20, 0.25],
  [0.07, 0.06, 0.08, 0.12, 0.10, 0.11, 0.13, 0.15, 0.16, 0.14, 0.30, 0.28, 0.24],
  [0.09, 0.07, 0.06, 0.10, 0.08, 0.09, 0.10, 0.12, 0.12, 0.20, 0.25, 0.22, 0.18],
  [0.04, 0.05, 0.05, 0.08, 0.06, 0.07, 0.08, 0.10, 0.10, 0.12, 0.15, 0.28, 0.17],
  [0.05, 0.04, 0.07, 0.07, 0.05, 0.06, 0.07, 0.08, 0.09, 0.10, 0.13, 0.16, 0.15],
  [0.03, 0.03, 0.04, 0.06, 0.04, 0.05, 0.06, 0.06, 0.07, 0.08, 0.28, 0.12, 0.10],
  [0.06, 0.08, 0.06, 0.05, 0.07, 0.04, 0.05, 0.07, 0.06, 0.07, 0.12, 0.10, 0.08],
  [0.02, 0.02, 0.03, 0.04, 0.03, 0.03, 0.04, 0.05, 0.05, 0.05, 0.08, 0.09, 0.07],
  [0.04, 0.06, 0.05, 0.03, 0.02, 0.05, 0.03, 0.04, 0.04, 0.06, 0.06, 0.07, 0.12],
  [0.03, 0.04, 0.02, 0.02, 0.03, 0.02, 0.02, 0.03, 0.03, 0.04, 0.05, 0.05, 0.05],
  [0.07, 0.05, 0.04, 0.06, 0.06, 0.08, 0.09, 0.06, 0.08, 0.09, 0.10, 0.14, 0.06],
  [0.05, 0.03, 0.03, 0.05, 0.04, 0.04, 0.05, 0.04, 0.05, 0.03, 0.04, 0.06, 0.04],
  [0.02, 0.04, 0.02, 0.03, 0.05, 0.03, 0.04, 0.05, 0.06, 0.07, 0.09, 0.11, 0.09],
  [0.06, 0.07, 0.09, 0.11, 0.09, 0.10, 0.11, 0.09, 0.11, 0.10, 0.16, 0.13, 0.11],
  [0.04, 0.03, 0.06, 0.04, 0.07, 0.06, 0.03, 0.02, 0.02, 0.03, 0.03, 0.04, 0.03]
];

// look of each series (legend order)
const GREEN = "#5db548", BLUE = "#3953a4", ORANGE = "#f8a01c", RED = "#e3202a", PINK = "#f5b6c6", GREY = "#bebebe";
const seriesStyle = [
  { color: GREEN, width: 2, dash: [], point: "circle" },
  { color: GREEN, width: 2, dash: [], point: "triangle" },
  { color: BLUE, width: 2, dash: [], point: "circle" },
  { color: BLUE, width: 1.5, dash: [5, 3], point: "circle" },
  { color: BLUE, width: 1.5, dash: [1.5, 2], point: "circle" },
  { color: ORANGE, width: 2, dash: [], point: "circle" },
  { color: RED, width: 2, dash: [], point: "circle" },
  { color: RED, width: 1.3, dash: [4, 3], point: "circle" },
  { color: RED, width: 2, dash: [], point: "rect" },
  { color: RED, width: 1.3, dash: [4, 3], point: "triangle" },
  { color: PINK, width: 1.5, dash: [], point: "circle" },
  { color: PINK, width: 1.3, dash: [4, 3], point: "triangle" },
  { color: "#000", width: 1, dash: [], point: "circle" }
];

const panels = [
  { tag: "A", title: "Osel 1", vals: osel1, grey: osel1Grey, pass: passShort, box: [61, 38, 228, 272], tagAt: [18, 16] },
  { tag: "B", title: "Osel 2", vals: osel2, grey: osel2Grey, pass: passShort, box: [316, 38, 482, 272], tagAt: [300, 17] },
  { tag: "C", title: "Osel 3", vals: osel3, grey: osel3Grey, pass: passShort, box: [571, 38, 738, 272], tagAt: [555, 17] },
  { tag: "D", title: "Combined 1", vals: comb1, grey: comb1Grey, pass: passShort, box: [59, 366, 223, 594], tagAt: [14, 346] },
  { tag: "E", title: "Combined 2", vals: comb2, grey: comb2Grey, pass: passShort, box: [308, 366, 472, 594], tagAt: [298, 346] },
  { tag: "F", title: "Combined 3", vals: comb3, grey: comb3Grey, pass: passShort, box: [558, 366, 720, 594], tagAt: [540, 346] },
  { tag: "G", title: "Favi", vals: favi, grey: faviGrey, pass: passLong, box: [99, 708, 338, 892], tagAt: [15, 690], blackDash: [4, 3] },
  { tag: "H", title: "No drug", vals: noDrug, grey: noDrugGrey, pass: passLong, box: [483, 708, 720, 892], tagAt: [428, 690], blackDash: [4, 3] }
];

const fig = document.getElementById("fig");

function addText(txt, x, y, css, rot) {
  const d = document.createElement("div");
  d.className = rot ? "t rot" : "t";
  d.textContent = txt;
  d.style.left = x + "px";
  d.style.top = y + "px";
  Object.assign(d.style, css || {});
  fig.appendChild(d);
}

// box around the plot region and R-style rotated y tick labels
const rFrame = {
  id: "rFrame",
  afterDraw(chart, args, opts) {
    const { ctx, chartArea: a, scales } = chart;
    ctx.save();
    ctx.strokeStyle = "#222";
    ctx.lineWidth = 1;
    ctx.strokeRect(Math.round(a.left) + 0.5, Math.round(a.top) + 0.5,
      Math.round(a.right - a.left) - 1, Math.round(a.bottom - a.top) - 1);
    ctx.fillStyle = "#000";
    ctx.font = opts.fontSize + "px 'Liberation Sans', Arial, sans-serif";
    ctx.textAlign = "center";
    ctx.textBaseline = "middle";
    opts.labels.forEach(v => {
      const py = scales.y.getPixelForValue(v);
      ctx.save();
      ctx.translate(a.left - opts.offset, py);
      ctx.rotate(-Math.PI / 2);
      ctx.fillText(v.toFixed(1), 0, 0);
      ctx.restore();
    });
    ctx.restore();
  }
};

function makePanel(p) {
  const big = p.pass.length > 8;
  const [L, T, R, B] = p.box;
  const padL = big ? 70 : 50;
  const padB = big ? 60 : 45;
  const cv = document.createElement("canvas");
  cv.width = R - L + padL + 6;
  cv.height = B - T + padB + 6;
  cv.style.left = (L - padL) + "px";
  cv.style.top = (T - 6) + "px";
  fig.appendChild(cv);

  const ptR = big ? 3.3 : 2;
  const datasets = [];
  // colored series: later legend entries on top
  for (let i = seriesNames.length - 1; i >= 0; i--) {
    const s = seriesStyle[i];
    let dash = s.dash;
    if (i === 12 && p.blackDash) dash = p.blackDash;
    datasets.push({
      label: seriesNames[i],
      data: p.vals[i].map((v, k) => ({ x: p.pass[k], y: v })),
      borderColor: s.color,
      backgroundColor: s.color,
      borderWidth: s.width,
      borderDash: dash,
      pointStyle: s.point,
      pointRadius: s.point === "triangle" ? ptR * 1.25 : (s.point === "rect" ? ptR * 1.3 : ptR),
      pointBackgroundColor: s.color,
      pointBorderWidth: 0,
      tension: 0
    });
  }
  p.grey.forEach((g, j) => {
    datasets.push({
      label: "other " + (j + 1),
      data: g.map((v, k) => ({ x: p.pass[k], y: v })),
      borderColor: GREY,
      borderWidth: big ? 1.2 : 0.9,
      pointRadius: 0,
      tension: 0
    });
  });

  const n = p.pass.length - 1;
  const xPad = n * 0.04;
  const xTicks = big ? [4, 6, 8, 10, 12, 14] : passShort;
  const xFont = big ? 20 : 14;

  new Chart(cv, {
    type: "line",
    data: { datasets },
    options: {
      responsive: false,
      animation: false,
      devicePixelRatio: 1,
      layout: { padding: { left: 0, top: 6, right: 6, bottom: 0 } },
      plugins: {
        legend: { display: false },
        tooltip: { enabled: false },
        rFrame: {
          labels: big ? [0, 0.4, 0.8] : [0, 0.2, 0.4, 0.6, 0.8, 1.0],
          offset: big ? 26 : 18,
          fontSize: big ? 20 : 14
        }
      },
      scales: {
        x: {
          type: "linear",
          min: p.pass[0] - xPad,
          max: p.pass[n] + xPad,
          afterFit: s => { s.height = padB; },
          afterBuildTicks: s => { s.ticks = xTicks.map(v => ({ value: v })); },
          ticks: {
            autoSkip: false, maxRotation: 0, minRotation: 0,
            padding: 2,
            color: "#000",
            font: { size: xFont, family: "'Liberation Sans', Arial, sans-serif" },
            callback: v => (big ? (v === 12 ? "" : v) : (v === 10 ? "" : v))
          },
          grid: { drawOnChartArea: false, drawTicks: true, tickLength: big ? 7 : 5, color: "#222", tickColor: "#222" },
          border: { display: true, color: "#222" }
        },
        y: {
          min: -0.04,
          max: big ? 1.044 : 1.04,
          afterFit: s => { s.width = padL; },
          afterBuildTicks: s => { s.ticks = [0, 0.2, 0.4, 0.6, 0.8, 1.0].map(v => ({ value: v })); },
          ticks: { display: false },
          grid: { drawOnChartArea: false, drawTicks: true, tickLength: big ? 6 : 5, color: "#222", tickColor: "#222" },
          border: { display: true, color: "#222" }
        }
      }
    },
    plugins: [rFrame]
  });

  // texts around the panel
  const cx = (L + R) / 2, cy = (T + B) / 2;
  addText(p.tag, p.tagAt[0], p.tagAt[1], { fontSize: "20px", fontWeight: "bold" });
  addText(p.title, cx, big ? T - 15 : T - 9.5, { fontSize: big ? "21px" : "13px", fontWeight: "bold" });
  addText("Frequency", big ? L - 57 : L - 34, cy, { fontSize: big ? "20px" : "14px" }, true);
  addText("Passage", cx, big ? B + 52 : B + 33, { fontSize: big ? "20px" : "14px" });
}

panels.forEach(makePanel);

// legend, two columns
function legendSymbol(i, x, y) {
  const s = seriesStyle[i];
  const ns = "http://www.w3.org/2000/svg";
  const svg = document.createElementNS(ns, "svg");
  svg.setAttribute("width", "34");
  svg.setAttribute("height", "14");
  svg.setAttribute("class", "legsym");
  svg.style.left = x + "px";
  svg.style.top = (y - 7) + "px";
  const ln = document.createElementNS(ns, "line");
  ln.setAttribute("x1", "2"); ln.setAttribute("x2", "31");
  ln.setAttribute("y1", "7"); ln.setAttribute("y2", "7");
  ln.setAttribute("stroke", s.color);
  ln.setAttribute("stroke-opacity", "0.65");
  ln.setAttribute("stroke-width", "1.3");
  if (s.dash.length) ln.setAttribute("stroke-dasharray", s.dash.map(d => d * 0.8).join(" "));
  svg.appendChild(ln);
  let m;
  if (s.point === "circle") {
    m = document.createElementNS(ns, "circle");
    m.setAttribute("cx", "16.5"); m.setAttribute("cy", "7"); m.setAttribute("r", "3.6");
  } else if (s.point === "triangle") {
    m = document.createElementNS(ns, "polygon");
    m.setAttribute("points", "16.5,2.3 21,10.2 12,10.2");
  } else {
    m = document.createElementNS(ns, "rect");
    m.setAttribute("x", "13"); m.setAttribute("y", "3.5"); m.setAttribute("width", "7"); m.setAttribute("height", "7");
  }
  m.setAttribute("fill", s.color);
  svg.appendChild(m);
  fig.appendChild(svg);
}

seriesNames.forEach((name, i) => {
  const col = i < 7 ? 0 : 1;
  const row = col === 0 ? i : i - 7;
  const y = 989 + row * 19;
  legendSymbol(i, col === 0 ? 146 : 404, y);
  const d = document.createElement("div");
  d.className = "legtxt";
  d.textContent = name;
  d.style.left = (col === 0 ? 193 : 451) + "px";
  d.style.top = y + "px";
  fig.appendChild(d);
});
</script>
</body>
</html>
